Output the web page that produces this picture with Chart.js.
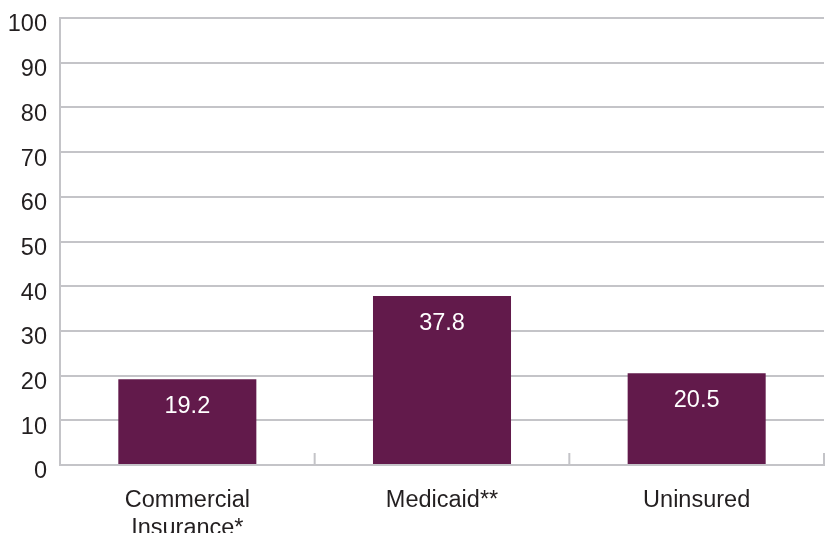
<!DOCTYPE html>
<html>
<head>
<meta charset="utf-8">
<script src="https://cdn.jsdelivr.net/npm/chart.js@4/dist/chart.umd.min.js"></script>
<style>
  html, body { margin: 0; padding: 0; background: #ffffff; }
  #wrap { width: 830px; height: 533px; }
</style>
</head>
<body>
<div id="wrap"><canvas id="c" width="830" height="533"></canvas></div>
<script>
const categories = [["Commercial", "Insurance*"], "Medicaid**", "Uninsured"];
const values = [19.2, 37.8, 20.5];
const yTicks = [0, 10, 20, 30, 40, 50, 60, 70, 80, 90, 100];

const BAR_COLOR = "#621a4b";
const GRID_COLOR = "#c4c4c8";
const TEXT_COLOR = "#231f20";
const FONT = "'Liberation Sans', Arial, Helvetica, sans-serif";
const FONT_SIZE = 23.5;

// Short upward tick marks on the x axis at each category boundary
const boundaryTicks = {
  id: "boundaryTicks",
  afterDatasetsDraw(chart) {
    const x = chart.scales.x, y = chart.scales.y;
    const ctx = chart.ctx;
    const base = y.getPixelForValue(0);
    const n = chart.data.labels.length;
    ctx.save();
    ctx.strokeStyle = GRID_COLOR;
    ctx.lineWidth = 2;
    for (let i = 0; i < n; i++) {
      const c = x.getPixelForValue(i);
      const next = i < n - 1 ? x.getPixelForValue(i + 1) : c + (c - x.getPixelForValue(i - 1));
      const bx = (c + next) / 2;
      ctx.beginPath();
      ctx.moveTo(bx, base);
      ctx.lineTo(bx, base - 12);
      ctx.stroke();
    }
    ctx.restore();
  }
};

// White value labels just inside the top of each bar
const valueLabels = {
  id: "valueLabels",
  afterDatasetsDraw(chart) {
    const ctx = chart.ctx;
    const meta = chart.getDatasetMeta(0);
    ctx.save();
    ctx.fillStyle = "#ffffff";
    ctx.font = FONT_SIZE + "px " + FONT;
    ctx.textAlign = "center";
    ctx.textBaseline = "middle";
    meta.data.forEach((bar, i) => {
      ctx.fillText(values[i].toFixed(1), bar.x, bar.y + 27);
    });
    ctx.restore();
  }
};

new Chart(document.getElementById("c"), {
  type: "bar",
  data: {
    labels: categories,
    datasets: [{
      data: values,
      backgroundColor: BAR_COLOR,
      borderWidth: 0,
      categoryPercentage: 1.0,
      barPercentage: 0.542
    }]
  },
  options: {
    responsive: false,
    animation: false,
    devicePixelRatio: 1,
    layout: { padding: { top: 18, right: 6, left: 0, bottom: 0 } },
    plugins: {
      legend: { display: false },
      tooltip: { enabled: false }
    },
    scales: {
      x: {
        grid: { display: false, drawTicks: false },
        border: { display: true, color: GRID_COLOR, width: 2 },
        ticks: {
          color: TEXT_COLOR,
          font: { family: FONT, size: FONT_SIZE, lineHeight: 1.17 },
          padding: 22,
          maxRotation: 0,
          autoSkip: false
        },
        afterFit(scale) {
          scale.height = 68;
          scale.paddingLeft = 0;
          scale.paddingRight = 0;
        }
      },
      y: {
        min: 0,
        max: 100,
        afterBuildTicks(scale) { scale.ticks = yTicks.map(v => ({ value: v })); },
        grid: { color: GRID_COLOR, lineWidth: 2, drawTicks: false },
        border: { display: true, color: GRID_COLOR, width: 2 },
        ticks: {
          color: TEXT_COLOR,
          font: { family: FONT, size: FONT_SIZE },
          padding: 13,
          labelOffset: 7
        },
        afterFit(scale) {
          scale.width = 60;
          scale.paddingTop = 0;
          scale.paddingBottom = 0;
        }
      }
    }
  },
  plugins: [boundaryTicks, valueLabels]
});
</script>
</body>
</html>
